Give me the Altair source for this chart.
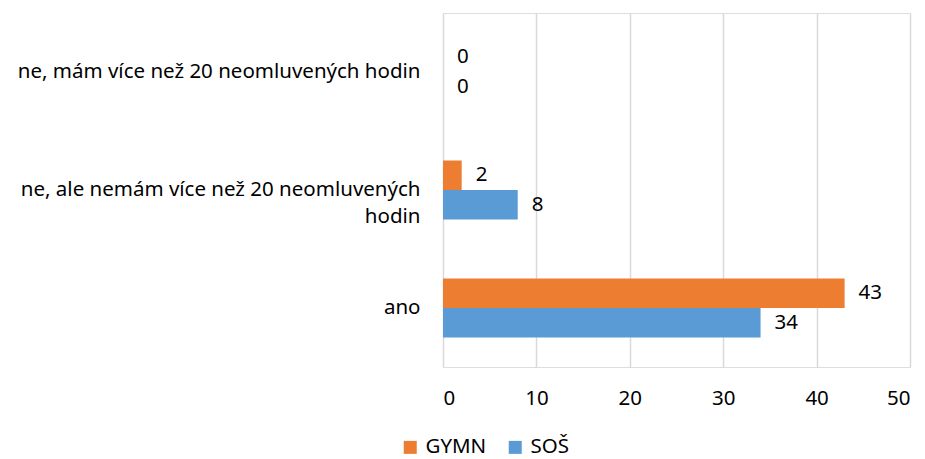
import altair as alt
import pandas as pd

categories = ["ne, mám více než 20 neomluvených hodin",
              "ne, ale nemám více než 20 neomluvených\nhodin",
              "ano"]
series = ["GYMN", "SOŠ"]
gymn = [0, 2, 43]
sos = [0, 8, 34]
colors = ["#ED7D31", "#5B9BD5"]

rows = []
for c, g, s in zip(categories, gymn, sos):
    rows.append({"cat": c, "series": "GYMN", "value": g})
    rows.append({"cat": c, "series": "SOŠ", "value": s})
df = pd.DataFrame(rows)

FONT = "Noto Sans"
FS = 20.5

y_enc = alt.Y("cat:N", sort=categories, title=None,
              scale=alt.Scale(paddingInner=0.5, paddingOuter=0.25),
              axis=alt.Axis(labelExpr="split(datum.label, '\\n')", ticks=False, domain=False,
                            labelFontSize=FS, labelFont=FONT, labelColor="#000000",
                            labelPadding=23, labelLimit=500, labelAlign="right",
                            minExtent=435, maxExtent=435, labelLineHeight=27))
yoff = alt.YOffset("series:N", sort=series)

base = alt.Chart(df)

bars = base.mark_bar().encode(
    x=alt.X("value:Q", scale=alt.Scale(domain=[0, 50]), title=None,
            axis=alt.Axis(values=[0, 10, 20, 30, 40, 50], grid=True, gridColor="#D9D9D9",
                          gridWidth=1.5, domain=False, ticks=False, labelFontSize=FS,
                          labelFont=FONT, labelColor="#000000", labelPadding=21)),
    y=y_enc,
    yOffset=yoff,
    color=alt.Color("series:N", sort=series,
                    scale=alt.Scale(domain=series, range=colors),
                    legend=alt.Legend(title=None, orient="none", legendX=-43, legendY=424,
                                      direction="horizontal",
                                      symbolType="square", symbolSize=169, symbolStrokeWidth=0,
                                      labelFontSize=FS, labelFont=FONT, labelColor="#000000",
                                      labelOffset=5, columnPadding=18, symbolOffset=0)),
)

texts = base.mark_text(align="left", baseline="middle", dx=14, fontSize=FS,
                       font=FONT, color="#000000").encode(
    x="value:Q",
    y=alt.Y("cat:N", sort=categories),
    yOffset=yoff,
    text="value:Q",
)

chart = alt.layer(bars, texts).properties(
    width=467, height=354,
    padding={"left": 0, "top": 5, "right": 5, "bottom": 0},
).configure_view(stroke=None).configure(background="#FFFFFF")

chart.save("out.html", embed_options={"renderer": "svg", "actions": False})
